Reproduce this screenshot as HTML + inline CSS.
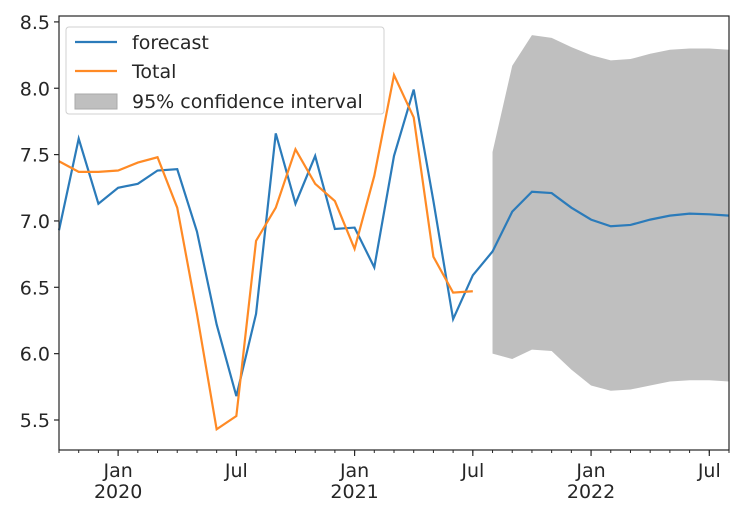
<!DOCTYPE html>
<html><head><meta charset="utf-8"><style>
body{margin:0;background:#fff;width:740px;height:520px;overflow:hidden}
svg text{font-family:"DejaVu Sans","Liberation Sans",sans-serif;fill:#262626}
</style></head><body>
<svg id="chart" width="740" height="520" xmlns="http://www.w3.org/2000/svg">
<g id="fill-layer"></g><g id="lines"></g><g id="axes"></g><g id="legend"></g>
</svg>
<script>
const months = ["Oct 2019","Nov 2019","Dec 2019","Jan 2020","Feb 2020","Mar 2020","Apr 2020","May 2020","Jun 2020","Jul 2020","Aug 2020","Sep 2020","Oct 2020","Nov 2020","Dec 2020","Jan 2021","Feb 2021","Mar 2021","Apr 2021","May 2021","Jun 2021","Jul 2021","Aug 2021","Sep 2021","Oct 2021","Nov 2021","Dec 2021","Jan 2022","Feb 2022","Mar 2022","Apr 2022","May 2022","Jun 2022","Jul 2022","Aug 2022"];
const forecast = [6.93,7.62,7.13,7.25,7.28,7.38,7.39,6.92,6.22,5.68,6.30,7.66,7.13,7.49,6.94,6.95,6.65,7.49,7.99,7.15,6.26,6.59,6.77,7.07,7.22,7.21,7.10,7.01,6.96,6.97,7.01,7.04,7.055,7.05,7.04];
const total = [7.45,7.37,7.37,7.38,7.44,7.48,7.10,6.30,5.43,5.53,6.85,7.10,7.54,7.28,7.15,6.79,7.34,8.10,7.78,6.73,6.46,6.47];
const ciStart = 22;
const ciUpper = [7.52,8.17,8.40,8.38,8.31,8.25,8.21,8.22,8.26,8.29,8.30,8.30,8.29];
const ciLower = [6.00,5.96,6.03,6.02,5.88,5.76,5.72,5.73,5.76,5.79,5.80,5.80,5.79];
const yTicks = [5.5,6.0,6.5,7.0,7.5,8.0,8.5];
const xMajor = [{i:3,l:"Jan",y:"2020"},{i:9,l:"Jul",y:""},{i:15,l:"Jan",y:"2021"},{i:21,l:"Jul",y:""},{i:27,l:"Jan",y:"2022"},{i:33,l:"Jul",y:""}];

const L=59,R=729,T=16,B=450;
const x=i=>L+i*(R-L)/34;
const y=v=>420-(v-5.5)*132.7;
const NS="http://www.w3.org/2000/svg";
function mk(tag,attrs,parent,txt){const e=document.createElementNS(NS,tag);for(const k in attrs)e.setAttribute(k,attrs[k]);if(txt!==undefined)e.textContent=txt;parent.appendChild(e);return e;}
const fl=document.getElementById('fill-layer'),ln=document.getElementById('lines'),ax=document.getElementById('axes'),lg=document.getElementById('legend');

let pts=ciUpper.map((v,k)=>x(ciStart+k)+','+y(v));
for(let k=ciLower.length-1;k>=0;k--)pts.push(x(ciStart+k)+','+y(ciLower[k]));
const poly=mk('polygon',{points:pts.join(' '),fill:'#bfbfbf'},fl);



const fp=mk('polyline',{points:forecast.map((v,i)=>x(i)+','+y(v)).join(' '),fill:'none',stroke:'#2b7bba','stroke-width':2.2},ln);


const tp=mk('polyline',{points:total.map((v,i)=>x(i)+','+y(v)).join(' '),fill:'none',stroke:'#ff8a25','stroke-width':2.2},ln);



const frame=mk('rect',{x:L,y:T,width:R-L,height:B-T,fill:'none',stroke:'#262626','stroke-width':1.2},ax);


yTicks.forEach(v=>{
  mk('line',{x1:L-5,x2:L,y1:y(v),y2:y(v),stroke:'#262626','stroke-width':1.2},ax);
  const t=mk('text',{x:L-9,y:y(v)+7,'text-anchor':'end','font-size':19},ax,v.toFixed(1));
  
  
});
for(let i=0;i<months.length;i++){mk('line',{x1:x(i),x2:x(i),y1:B,y2:B+3,stroke:'#262626','stroke-width':1},ax);}
xMajor.forEach(m=>{
  mk('line',{x1:x(m.i),x2:x(m.i),y1:B,y2:B+6,stroke:'#262626','stroke-width':1.2},ax);
  const t=mk('text',{x:x(m.i),y:B+27,'text-anchor':'middle','font-size':19},ax,m.l);
  
  
  if(m.y){const t2=mk('text',{x:x(m.i),y:B+48,'text-anchor':'middle','font-size':19},ax,m.y);
  
  }
});

const box=mk('rect',{x:66,y:27,width:318,height:87,rx:3,fill:'#fff','fill-opacity':0.85,stroke:'#d0d0d0'},lg);


mk('line',{x1:75,x2:117,y1:42,y2:42,stroke:'#2b7bba','stroke-width':2.2},lg);
mk('line',{x1:75,x2:117,y1:71,y2:71,stroke:'#ff8a25','stroke-width':2.2},lg);
mk('rect',{x:75,y:94,width:42,height:15,fill:'#bfbfbf',stroke:'#aaa'},lg);
[["forecast",49],["Total",78],["95% confidence interval",108]].forEach(([s,yy])=>{
  const t=mk('text',{x:132,y:yy,'font-size':19},lg,s);
  
  
});
</script>
</body></html>
